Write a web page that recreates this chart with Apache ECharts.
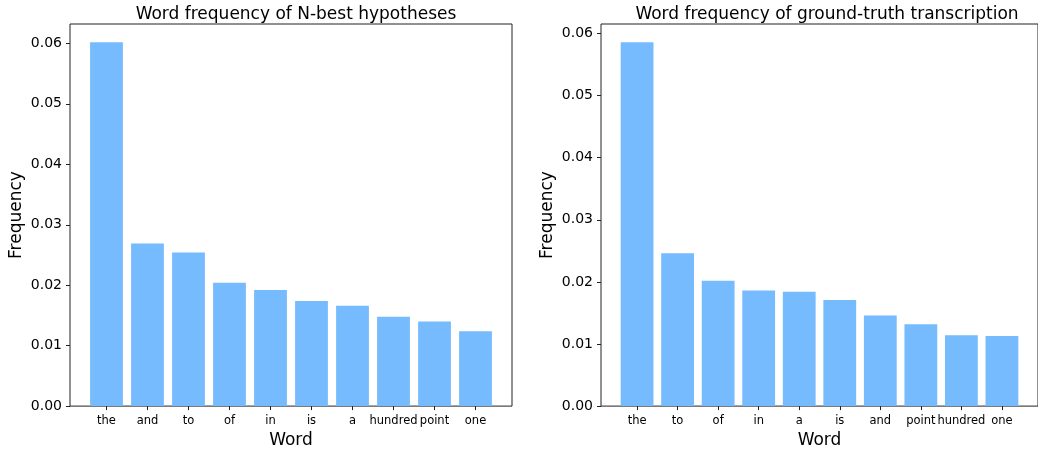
<!DOCTYPE html>
<html>
<head>
<meta charset="utf-8">
<script src="https://cdn.jsdelivr.net/npm/echarts@6/dist/echarts.min.js"></script>
<style>
html,body{margin:0;padding:0;background:#fff;}
#c{width:1038px;height:454px;}
</style>
</head>
<body>
<div id="c"></div>
<script>
const nbestWords = ['the','and','to','of','in','is','a','hundred','point','one'];
const nbestFreq  = [0.0602, 0.0269, 0.0254, 0.0204, 0.0192, 0.0174, 0.0166, 0.0148, 0.0140, 0.0124];
const gtWords    = ['the','to','of','in','a','is','and','point','hundred','one'];
const gtFreq     = [0.0586, 0.0246, 0.0202, 0.0186, 0.0184, 0.0171, 0.0146, 0.0132, 0.0114, 0.0113];
const yTicks     = [0, 0.01, 0.02, 0.03, 0.04, 0.05, 0.06];
const titles     = ['Word frequency of N-best hypotheses', 'Word frequency of ground-truth transcription'];

const FONT = 'DejaVu Sans';
const LINE = '#222';
const BAR = '#75bbfd';
const grids = [
  {left: 70, top: 24, width: 442, height: 387},
  {left: 601, top: 24, width: 442, height: 387}
];
const xMin = -0.89, xMax = 9.89;
const sets = [[nbestWords, nbestFreq], [gtWords, gtFreq]];
const idx = nbestWords.map((_, i) => i);

const option = {
  animation: false,
  backgroundColor: '#fff',
  textStyle: {fontFamily: FONT},
  title: titles.map((t, i) => ({
    text: t,
    left: grids[i].left + grids[i].width / 2,
    textAlign: 'center',
    top: 1,
    textStyle: {fontFamily: FONT, fontSize: 17, fontWeight: 'normal', color: '#000'}
  })),
  grid: grids.map(g => Object.assign({show: true, borderColor: LINE, borderWidth: 1, containLabel: false}, g)),
  xAxis: sets.map((s, i) => ({
    type: 'value', gridIndex: i, min: xMin, max: xMax,
    name: 'Word', nameLocation: 'middle', nameGap: 24,
    nameTextStyle: {fontFamily: FONT, fontSize: 17, color: '#000'},
    axisLine: {show: false, onZero: false},
    splitLine: {show: false},
    axisTick: {show: true, length: 4, customValues: idx, lineStyle: {color: LINE}},
    axisLabel: {customValues: idx, margin: 9, fontSize: 11.5, color: '#000', fontFamily: FONT,
      formatter: v => s[0][Math.round(v)]}
  })),
  yAxis: sets.map((s, i) => ({
    type: 'value', gridIndex: i, min: 0, max: Math.max(...s[1]) * 1.05,
    name: 'Frequency', nameLocation: 'middle', nameGap: 45,
    nameTextStyle: {fontFamily: FONT, fontSize: 17, color: '#000'},
    axisLine: {show: false, onZero: false},
    splitLine: {show: false},
    axisTick: {show: true, length: 4, customValues: yTicks, lineStyle: {color: LINE}},
    axisLabel: {customValues: yTicks, margin: 8, fontSize: 14, color: '#000', fontFamily: FONT,
      formatter: v => v.toFixed(2)}
  })),
  series: sets.map((s, i) => ({
    type: 'bar', xAxisIndex: i, yAxisIndex: i,
    barWidth: grids[i].width / (xMax - xMin) * 0.8,
    itemStyle: {color: BAR},
    data: s[1].map((v, k) => [k, v])
  }))
};
echarts.init(document.getElementById('c'), null, {renderer: 'canvas'}).setOption(option);
</script>
</body>
</html>
